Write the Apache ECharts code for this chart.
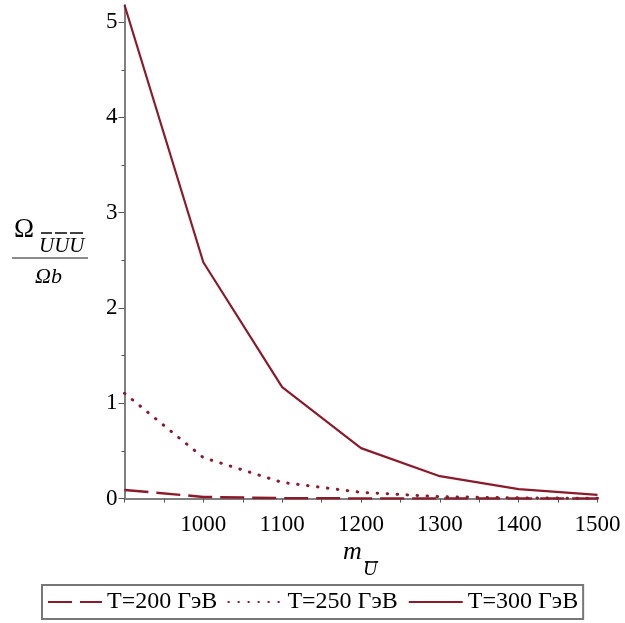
<!DOCTYPE html>
<html>
<head>
<meta charset="utf-8">
<script src="https://cdn.jsdelivr.net/npm/echarts@6/dist/echarts.min.js"></script>
<style>
  html, body { margin: 0; padding: 0; background: #fff; }
  #chart { width: 625px; height: 623px; }
</style>
</head>
<body>
<div id="chart"></div>
<script>
// Data
const massValues = [900, 1000, 1100, 1200, 1300, 1400, 1500];
const omegaT200 = [0.09, 0.018, 0.005, 0.0015, 0.0005, 0.0002, 0.0001];
const omegaT250 = [1.105, 0.43, 0.17, 0.066, 0.02, 0.008, 0.003];
const omegaT300 = [5.18, 2.48, 1.17, 0.53, 0.235, 0.10, 0.04];
const seriesNames = ['T=200 ГэВ', 'T=250 ГэВ', 'T=300 ГэВ'];
const xLabelValues = [1000, 1100, 1200, 1300, 1400, 1500];
const xTickValues = [900, 950, 1000, 1050, 1100, 1150, 1200, 1250, 1300, 1350, 1400, 1450, 1500];
const yLabelValues = [0, 1, 2, 3, 4, 5];
const yMinorValues = [0.5, 1.5, 2.5, 3.5, 4.5];

const LINE_COLOR = '#8b1a2a';
const SERIF = 'Liberation Serif';

function toPoints(ys) {
    return massValues.map((x, i) => [x, ys[i]]);
}

const chart = echarts.init(document.getElementById('chart'), null, { renderer: 'canvas' });

const yAxisBase = {
    type: 'value',
    min: 0,
    max: 5.18,
    splitLine: { show: false }
};

const option = {
    animation: false,
    grid: { left: 124.5, right: 27.5, top: 5, bottom: 124.4, containLabel: false },
    xAxis: {
        type: 'value',
        min: 900,
        max: 1500,
        splitLine: { show: false },
        axisLine: { lineStyle: { color: '#808080', width: 2 } },
        axisTick: { customValues: xTickValues, length: 4, lineStyle: { color: '#555' } },
        axisLabel: {
            customValues: xLabelValues,
            formatter: v => String(v),
            margin: 15,
            color: '#000',
            fontFamily: SERIF,
            fontSize: 23
        }
    },
    yAxis: [
        Object.assign({}, yAxisBase, {
            axisLine: { show: true, lineStyle: { color: '#808080', width: 2 } },
            axisTick: { show: true, customValues: yLabelValues, length: 6, lineStyle: { color: '#555' } },
            axisLabel: {
                customValues: yLabelValues,
                formatter: v => String(v),
                margin: 7,
                color: '#000',
                fontFamily: SERIF,
                fontSize: 23
            }
        }),
        Object.assign({}, yAxisBase, {
            position: 'left',
            axisLine: { show: false },
            axisTick: { show: true, customValues: yMinorValues, length: 3, lineStyle: { color: '#555' } },
            axisLabel: { show: false }
        })
    ],
    legend: {
        left: 42,
        top: 585,
        orient: 'horizontal',
        padding: [5, 5],
        itemGap: 10,
        itemWidth: 54,
        itemHeight: 24,
        borderColor: '#777',
        borderWidth: 2,
        itemStyle: { opacity: 0 },
        textStyle: { color: '#000', fontFamily: SERIF, fontSize: 24 },
        data: seriesNames
    },
    series: [
        {
            name: seriesNames[0],
            type: 'line',
            data: toPoints(omegaT200),
            symbol: 'none',
            lineStyle: { color: LINE_COLOR, width: 2.5, type: [24, 8] }
        },
        {
            name: seriesNames[1],
            type: 'line',
            data: toPoints(omegaT250),
            symbol: 'none',
            lineStyle: { color: LINE_COLOR, width: 3, type: [0.5, 9.5], cap: 'round' }
        },
        {
            name: seriesNames[2],
            type: 'line',
            data: toPoints(omegaT300),
            symbol: 'none',
            lineStyle: { color: LINE_COLOR, width: 2.2 }
        }
    ],
    graphic: [
        // y-axis name: fraction
        { type: 'text', x: 14, y: 230, style: { text: 'Ω', font: '27px "Liberation Serif"', fill: '#000', verticalAlign: 'middle' } },
        { type: 'text', x: 39, y: 246, style: { text: 'UUU', font: 'italic 21px "Liberation Serif"', fill: '#000', verticalAlign: 'middle' } },
        { type: 'line', shape: { x1: 41, y1: 233, x2: 52, y2: 233 }, style: { stroke: '#000', lineWidth: 1.5 } },
        { type: 'line', shape: { x1: 55, y1: 233, x2: 67, y2: 233 }, style: { stroke: '#000', lineWidth: 1.5 } },
        { type: 'line', shape: { x1: 70, y1: 233, x2: 83, y2: 233 }, style: { stroke: '#000', lineWidth: 1.5 } },
        { type: 'line', shape: { x1: 12, y1: 258, x2: 88, y2: 258 }, style: { stroke: '#666', lineWidth: 1.5 } },
        { type: 'text', x: 35, y: 277, style: { text: 'Ωb', font: 'italic 22px "Liberation Serif"', fill: '#000', verticalAlign: 'middle' } },
        // x-axis name
        { type: 'text', x: 343, y: 552, style: { text: 'm', font: 'italic 26px "Liberation Serif"', fill: '#000', verticalAlign: 'middle' } },
        { type: 'text', x: 363, y: 570, style: { text: 'U', font: 'italic 20px "Liberation Serif"', fill: '#000', verticalAlign: 'middle' } },
        { type: 'line', shape: { x1: 365, y1: 562, x2: 378, y2: 562 }, style: { stroke: '#000', lineWidth: 1.5 } }
    ]
};

chart.setOption(option);
</script>
</body>
</html>
